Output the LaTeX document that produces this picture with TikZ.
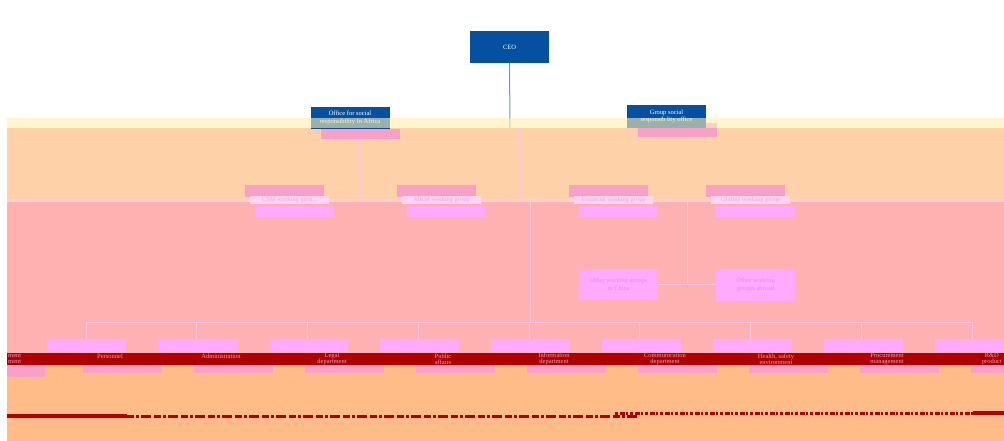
\documentclass[tikz,border=0pt]{standalone}
\usepackage{fontspec}
\setmainfont{Liberation Serif}
\definecolor{cblue}{HTML}{0550A0}
\definecolor{cyellow}{HTML}{FFF0B0}
\definecolor{cpeach}{HTML}{FFD1A8}
\definecolor{cstrip}{HTML}{FFD0DC}
\definecolor{cpinkband}{HTML}{FFB0B0}
\definecolor{cred}{HTML}{B00000}
\definecolor{corange}{HTML}{FFBB88}
\definecolor{cpinkbox}{HTML}{F8A0C8}
\definecolor{clight}{HTML}{FFD4F4}
\definecolor{clav}{HTML}{FFAAFF}
\definecolor{cline}{HTML}{FFC4E4}
\definecolor{clighttext}{HTML}{F2A8D4}
\definecolor{clavtext}{HTML}{EE8CD8}
\definecolor{cceoline}{HTML}{7095C8}
\definecolor{credtext}{HTML}{EC98BC}
\begin{document}
\begin{tikzpicture}[x=1pt,y=-1pt,
  bluebox/.style={draw=none,fill=cblue,text=white,minimum width=79pt,inner sep=0pt,align=center,font=\fontsize{6.5}{7.5}\selectfont},
  pinkbox/.style={draw=none,fill=cpinkbox,minimum width=79pt,inner sep=0pt},
  lightbox/.style={draw=none,fill=clight,minimum width=79pt,minimum height=8pt,inner sep=0pt,text=clighttext,font=\fontsize{6.5}{6.5}\selectfont},
  lavbox/.style={draw=none,fill=clav,minimum width=79pt,inner sep=0pt,align=center,text=clavtext,font=\fontsize{6.5}{8}\selectfont},
  conn/.style={draw=cline,line width=0.9pt},
  redtext/.style={text=credtext,align=center,inner sep=0pt,font=\fontsize{6.5}{6}\selectfont}]
\useasboundingbox (0,0) rectangle (1004,441);
\fill[white] (0,0) rectangle (1004,441);
% bands
\fill[cpeach] (7,128) rectangle (1004,199);
\fill[cstrip] (7,199) rectangle (1004,202);
\fill[cpinkband] (7,202) rectangle (1004,353);
\fill[cred] (7,353) rectangle (1004,365);
\fill[corange] (7,365) rectangle (1004,441);
% bottom dark red strips
\fill[cred] (7,414) rectangle (127,418);
\draw[cred,line width=3pt,dash pattern=on 7pt off 2pt on 3pt off 2pt on 10pt off 3pt] (127,416) -- (637,416);
\draw[cred,line width=3pt,dash pattern=on 3pt off 2pt on 5pt off 1pt on 2pt off 2pt] (615,413) -- (973,413);
\fill[cred] (973,411) rectangle (1004,415);
% top boxes
\node[bluebox,minimum height=32pt] (ceo) at (509.5,47) {CEO};
\node[pinkbox,minimum height=10pt] (offp) at (360.5,134) {};
\node[bluebox,minimum height=22pt] (off) at (350,118) {Office for social\\responsibility In Africa};
\node[pinkbox,minimum height=14pt] (grpp) at (677,130.5) {};
\node[bluebox,minimum height=23pt] (grp) at (666.5,116.5) {Group social\\responsib lity office};
% connector coordinates
\coordinate (c1) at (510,128);
\coordinate (c2) at (520,128);
\coordinate (c3) at (520,199);
\coordinate (c4) at (530,202);
\coordinate (c5) at (530,322);
\coordinate (o1) at (360.5,199);
\coordinate (g1) at (677,199);
\coordinate (g2) at (687,202);
\coordinate (g3) at (687,284);
\draw[cceoline,line width=1pt] (ceo.south) -- (c1);
\draw[conn] (c2) -- (c3);
\draw[conn] (c4) -- (c5);
\draw[conn] (offp.south) -- (o1);
\draw[conn] (grpp.south) -- (g1);
\draw[conn] (g2) -- (g3);
% middle row
\foreach \n/\x/\t in {m1/245/{CSM working grou...},m2/397/{MKM working group},m3/569/{Financial working group},m4/706/{Olefins working group}}{
  \node[pinkbox,minimum height=12pt,anchor=north west] (\n p) at (\x,185) {};
  \node[lightbox,anchor=north west] (\n) at (\x+5,196) {\t};
  \node[lavbox,minimum height=11pt,anchor=north west] (\n l) at (\x+10,206) {};
}
\node[lavbox,minimum height=31pt,anchor=north west] (wc) at (579,269) {Other working groups\\in China};
\node[lavbox,minimum height=32pt,anchor=north west] (wa) at (716,269) {Other working\\groups abroad};
\draw[conn] (wc.east |- g3) -- (wa.west |- g3);
% bottom row
\coordinate (hl) at (86,322);
\coordinate (hr) at (972,322);
\draw[conn] (hl) -- (hr);
\foreach \i/\t in {0/{Personnel\\{}},1/{Administration\\{}},2/{Legal\\department},3/{Public\\affairs},4/{Information\\department},5/{Communication\\department},6/{Health, safety\\environment},7/{Procurement\\management}}{
  \node[lavbox,minimum height=13pt,anchor=north west] (b\i) at ({47+111*\i},339) {};
  \draw[conn] ({86+110.75*\i},322) -- (b\i.north -| {86+110.75*\i},0);
  \node[pinkbox,minimum height=8pt,anchor=north west] (bp\i) at ({83+111*\i},365) {};
  \node[redtext] (bt\i) at ({110+111*\i},359) {\t};
}
\node[lavbox,minimum width=69pt,minimum height=13pt,anchor=north west] (b8) at (935,339) {};
\draw[conn] (972,322) -- (b8.north -| 972,0);
\node[pinkbox,minimum width=33pt,minimum height=8pt,anchor=north west] (bp8) at (971,365) {};
\node[redtext,anchor=east] (bt8) at (1002,359) {R\&D\\product};
\node[pinkbox,minimum width=38pt,minimum height=12pt,anchor=north west] (bpl) at (7,365) {};
\node[redtext,anchor=west] (btl) at (8,359) {ment\\ment};
% translucent yellow band on top
\fill[cyellow,opacity=0.6] (7,118) rectangle (1004,128);
\end{tikzpicture}
\end{document}
